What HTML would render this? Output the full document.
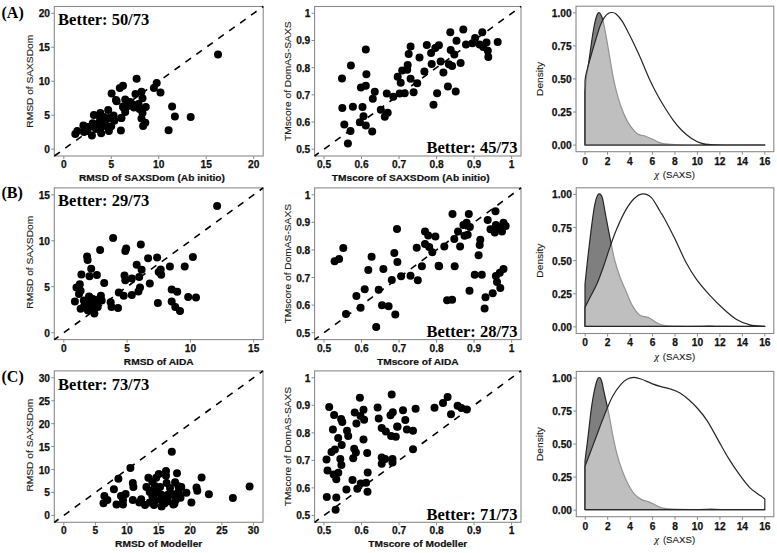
<!DOCTYPE html>
<html><head><meta charset="utf-8"><style>
html,body{margin:0;padding:0;background:#fff;}
svg{display:block;}
.tk{font-family:"Liberation Sans",sans-serif;font-weight:bold;font-size:10.2px;fill:#111;stroke:#111;stroke-width:0.25px;}
.xt{font-family:"Liberation Sans",sans-serif;font-weight:bold;font-size:10.2px;fill:#111;stroke:#111;stroke-width:0.2px;}
.yt{font-family:"Liberation Sans",sans-serif;font-size:10.2px;fill:#1a1a1a;stroke:#1a1a1a;stroke-width:0.12px;}
.bt{font-family:"Liberation Serif",serif;font-weight:bold;font-size:16.5px;fill:#000;}
.pl{font-family:"Liberation Serif",serif;font-weight:bold;font-size:16px;fill:#000;}
</style></head><body>
<svg width="777" height="553" viewBox="0 0 777 553">
<rect width="777" height="553" fill="#fff"/>
<rect x="54.3" y="6.5" width="208.90" height="149.50" fill="none" stroke="#8a8a8a" stroke-width="1.1"/>
<line x1="54.3" y1="156.0" x2="263.2" y2="6.5" stroke="#000" stroke-width="1.6" stroke-dasharray="6.8 6.64" stroke-dashoffset="0"/>
<line x1="63.80" y1="156.0" x2="63.80" y2="159.0" stroke="#8a8a8a" stroke-width="1"/>
<text transform="translate(63.80,168.00) scale(1,1.0)" class="tk" text-anchor="middle">0</text>
<line x1="111.27" y1="156.0" x2="111.27" y2="159.0" stroke="#8a8a8a" stroke-width="1"/>
<text transform="translate(111.27,168.00) scale(1,1.0)" class="tk" text-anchor="middle">5</text>
<line x1="158.75" y1="156.0" x2="158.75" y2="159.0" stroke="#8a8a8a" stroke-width="1"/>
<text transform="translate(158.75,168.00) scale(1,1.0)" class="tk" text-anchor="middle">10</text>
<line x1="206.23" y1="156.0" x2="206.23" y2="159.0" stroke="#8a8a8a" stroke-width="1"/>
<text transform="translate(206.23,168.00) scale(1,1.0)" class="tk" text-anchor="middle">15</text>
<line x1="253.70" y1="156.0" x2="253.70" y2="159.0" stroke="#8a8a8a" stroke-width="1"/>
<text transform="translate(253.70,168.00) scale(1,1.0)" class="tk" text-anchor="middle">20</text>
<line x1="51.3" y1="149.20" x2="54.3" y2="149.20" stroke="#8a8a8a" stroke-width="1"/>
<text transform="translate(50.00,153.20) scale(1,1.0)" class="tk" text-anchor="end">0</text>
<line x1="51.3" y1="115.23" x2="54.3" y2="115.23" stroke="#8a8a8a" stroke-width="1"/>
<text transform="translate(50.00,119.23) scale(1,1.0)" class="tk" text-anchor="end">5</text>
<line x1="51.3" y1="81.25" x2="54.3" y2="81.25" stroke="#8a8a8a" stroke-width="1"/>
<text transform="translate(50.00,85.25) scale(1,1.0)" class="tk" text-anchor="end">10</text>
<line x1="51.3" y1="47.27" x2="54.3" y2="47.27" stroke="#8a8a8a" stroke-width="1"/>
<text transform="translate(50.00,51.27) scale(1,1.0)" class="tk" text-anchor="end">15</text>
<line x1="51.3" y1="13.30" x2="54.3" y2="13.30" stroke="#8a8a8a" stroke-width="1"/>
<text transform="translate(50.00,17.30) scale(1,1.0)" class="tk" text-anchor="end">20</text>
<text transform="translate(152,181.00) scale(1,0.88)" class="xt" text-anchor="middle">RMSD of SAXSDom (Ab initio)</text>
<text transform="translate(33.00,81.25) rotate(-90) scale(1,0.95)" class="yt" text-anchor="middle">RMSD of  SAXSDom</text>
<circle cx="116.6" cy="101.20" r="4.0"/>
<circle cx="108.2" cy="110.00" r="4.0"/>
<circle cx="100.4" cy="113.10" r="4.0"/>
<circle cx="93.9" cy="115.10" r="4.0"/>
<circle cx="83.4" cy="125.50" r="4.0"/>
<circle cx="77.3" cy="130.90" r="4.0"/>
<circle cx="75.3" cy="134.00" r="4.0"/>
<circle cx="121.3" cy="118.10" r="4.0"/>
<circle cx="120.9" cy="130.50" r="4.0"/>
<circle cx="113.6" cy="115.40" r="4.0"/>
<circle cx="114.3" cy="120.80" r="4.0"/>
<circle cx="92.7" cy="123.20" r="4.0"/>
<circle cx="91.9" cy="135.50" r="4.0"/>
<circle cx="101.2" cy="133.20" r="4.0"/>
<circle cx="108.9" cy="130.90" r="4.0"/>
<circle cx="111.2" cy="126.30" r="4.0"/>
<circle cx="87.3" cy="130.90" r="4.0"/>
<circle cx="123.6" cy="107.70" r="4.0"/>
<circle cx="99" cy="123.00" r="4.0"/>
<circle cx="105" cy="121.00" r="4.0"/>
<circle cx="101" cy="127.00" r="4.0"/>
<circle cx="96" cy="129.00" r="4.0"/>
<circle cx="106" cy="126.00" r="4.0"/>
<circle cx="104" cy="117.00" r="4.0"/>
<circle cx="218.0" cy="54.60" r="4.0"/>
<circle cx="136.6" cy="78.80" r="4.0"/>
<circle cx="156.7" cy="83.10" r="4.0"/>
<circle cx="153.9" cy="88.00" r="4.0"/>
<circle cx="160.5" cy="92.40" r="4.0"/>
<circle cx="172.1" cy="106.50" r="4.0"/>
<circle cx="174.9" cy="116.40" r="4.0"/>
<circle cx="190.7" cy="116.90" r="4.0"/>
<circle cx="168.6" cy="130.30" r="4.0"/>
<circle cx="123" cy="85.80" r="4.0"/>
<circle cx="119.8" cy="88.00" r="4.0"/>
<circle cx="111.6" cy="93.40" r="4.0"/>
<circle cx="116" cy="100.00" r="4.0"/>
<circle cx="135.5" cy="94.00" r="4.0"/>
<circle cx="141.5" cy="91.80" r="4.0"/>
<circle cx="142.5" cy="98.30" r="4.0"/>
<circle cx="145.8" cy="107.00" r="4.0"/>
<circle cx="142.5" cy="113.00" r="4.0"/>
<circle cx="141.5" cy="118.40" r="4.0"/>
<circle cx="145.3" cy="122.70" r="4.0"/>
<circle cx="143.1" cy="126.00" r="4.0"/>
<circle cx="125.2" cy="99.40" r="4.0"/>
<circle cx="130.1" cy="102.10" r="4.0"/>
<circle cx="123" cy="106.50" r="4.0"/>
<circle cx="133.9" cy="107.50" r="4.0"/>
<circle cx="125.2" cy="111.90" r="4.0"/>
<circle cx="121.4" cy="117.90" r="4.0"/>
<circle cx="128" cy="106.00" r="4.0"/>
<circle cx="132" cy="104.00" r="4.0"/>
<circle cx="109" cy="118.00" r="4.0"/>
<circle cx="100" cy="118.00" r="4.0"/>
<circle cx="84" cy="132.00" r="4.0"/>
<circle cx="88" cy="127.00" r="4.0"/>
<circle cx="95" cy="125.00" r="4.0"/>
<circle cx="105" cy="124.00" r="4.0"/>
<circle cx="138.5" cy="104.00" r="4.0"/>
<circle cx="139.5" cy="109.00" r="4.0"/>
<text transform="translate(58.099999999999994,25.30) scale(1,1.03)" class="bt">Better: 50/73</text>
<rect x="314.6" y="6.5" width="206.40" height="149.50" fill="none" stroke="#8a8a8a" stroke-width="1.1"/>
<line x1="314.6" y1="156.0" x2="521.0" y2="6.5" stroke="#000" stroke-width="1.6" stroke-dasharray="6.8 6.64" stroke-dashoffset="1.6"/>
<line x1="323.98" y1="156.0" x2="323.98" y2="159.0" stroke="#8a8a8a" stroke-width="1"/>
<text transform="translate(323.98,168.00) scale(1,1.0)" class="tk" text-anchor="middle">0.5</text>
<line x1="361.51" y1="156.0" x2="361.51" y2="159.0" stroke="#8a8a8a" stroke-width="1"/>
<text transform="translate(361.51,168.00) scale(1,1.0)" class="tk" text-anchor="middle">0.6</text>
<line x1="399.04" y1="156.0" x2="399.04" y2="159.0" stroke="#8a8a8a" stroke-width="1"/>
<text transform="translate(399.04,168.00) scale(1,1.0)" class="tk" text-anchor="middle">0.7</text>
<line x1="436.56" y1="156.0" x2="436.56" y2="159.0" stroke="#8a8a8a" stroke-width="1"/>
<text transform="translate(436.56,168.00) scale(1,1.0)" class="tk" text-anchor="middle">0.8</text>
<line x1="474.09" y1="156.0" x2="474.09" y2="159.0" stroke="#8a8a8a" stroke-width="1"/>
<text transform="translate(474.09,168.00) scale(1,1.0)" class="tk" text-anchor="middle">0.9</text>
<line x1="511.62" y1="156.0" x2="511.62" y2="159.0" stroke="#8a8a8a" stroke-width="1"/>
<text transform="translate(511.62,168.00) scale(1,1.0)" class="tk" text-anchor="middle">1</text>
<line x1="311.6" y1="149.20" x2="314.6" y2="149.20" stroke="#8a8a8a" stroke-width="1"/>
<text transform="translate(310.30,153.20) scale(1,1.0)" class="tk" text-anchor="end">0.5</text>
<line x1="311.6" y1="122.02" x2="314.6" y2="122.02" stroke="#8a8a8a" stroke-width="1"/>
<text transform="translate(310.30,126.02) scale(1,1.0)" class="tk" text-anchor="end">0.6</text>
<line x1="311.6" y1="94.84" x2="314.6" y2="94.84" stroke="#8a8a8a" stroke-width="1"/>
<text transform="translate(310.30,98.84) scale(1,1.0)" class="tk" text-anchor="end">0.7</text>
<line x1="311.6" y1="67.66" x2="314.6" y2="67.66" stroke="#8a8a8a" stroke-width="1"/>
<text transform="translate(310.30,71.66) scale(1,1.0)" class="tk" text-anchor="end">0.8</text>
<line x1="311.6" y1="40.48" x2="314.6" y2="40.48" stroke="#8a8a8a" stroke-width="1"/>
<text transform="translate(310.30,44.48) scale(1,1.0)" class="tk" text-anchor="end">0.9</text>
<line x1="311.6" y1="13.30" x2="314.6" y2="13.30" stroke="#8a8a8a" stroke-width="1"/>
<text transform="translate(310.30,17.30) scale(1,1.0)" class="tk" text-anchor="end">1</text>
<text transform="translate(410.7,181.00) scale(1,0.88)" class="xt" text-anchor="middle">TMscore of SAXSDom (Ab initio)</text>
<text transform="translate(290.80,81.25) rotate(-90) scale(1,0.95)" class="yt" text-anchor="middle">TMscore of DomAS-SAXS</text>
<circle cx="365.8" cy="49.60" r="4.0"/>
<circle cx="350.9" cy="65.50" r="4.0"/>
<circle cx="342" cy="78.40" r="4.0"/>
<circle cx="366.4" cy="74.20" r="4.0"/>
<circle cx="360.9" cy="87.40" r="4.0"/>
<circle cx="365.8" cy="85.80" r="4.0"/>
<circle cx="374.8" cy="91.80" r="4.0"/>
<circle cx="372.8" cy="98.70" r="4.0"/>
<circle cx="342.3" cy="108.10" r="4.0"/>
<circle cx="352.9" cy="106.70" r="4.0"/>
<circle cx="362.5" cy="107.10" r="4.0"/>
<circle cx="363.5" cy="116.30" r="4.0"/>
<circle cx="359.9" cy="122.20" r="4.0"/>
<circle cx="365.8" cy="125.60" r="4.0"/>
<circle cx="372.2" cy="131.60" r="4.0"/>
<circle cx="344.3" cy="124.60" r="4.0"/>
<circle cx="350.5" cy="131.00" r="4.0"/>
<circle cx="347.9" cy="143.50" r="4.0"/>
<circle cx="380.8" cy="109.70" r="4.0"/>
<circle cx="387.7" cy="112.70" r="4.0"/>
<circle cx="384.8" cy="116.70" r="4.0"/>
<circle cx="386.8" cy="93.40" r="4.0"/>
<circle cx="393.3" cy="96.80" r="4.0"/>
<circle cx="399.7" cy="93.40" r="4.0"/>
<circle cx="404.7" cy="93.20" r="4.0"/>
<circle cx="413.6" cy="92.20" r="4.0"/>
<circle cx="397.7" cy="76.80" r="4.0"/>
<circle cx="400.7" cy="82.80" r="4.0"/>
<circle cx="402.2" cy="70.60" r="4.0"/>
<circle cx="407.2" cy="69.80" r="4.0"/>
<circle cx="407.7" cy="64.90" r="4.0"/>
<circle cx="408.7" cy="53.90" r="4.0"/>
<circle cx="410.6" cy="46.40" r="4.0"/>
<circle cx="410.6" cy="78.80" r="4.0"/>
<circle cx="417.2" cy="83.30" r="4.0"/>
<circle cx="419.5" cy="57.60" r="4.0"/>
<circle cx="424.4" cy="71.60" r="4.0"/>
<circle cx="426.8" cy="45.00" r="4.0"/>
<circle cx="431.1" cy="53.10" r="4.0"/>
<circle cx="435.3" cy="48.00" r="4.0"/>
<circle cx="438.9" cy="45.30" r="4.0"/>
<circle cx="431.7" cy="64.00" r="4.0"/>
<circle cx="440.7" cy="61.60" r="4.0"/>
<circle cx="443.4" cy="72.50" r="4.0"/>
<circle cx="448.9" cy="64.30" r="4.0"/>
<circle cx="452.1" cy="66.10" r="4.0"/>
<circle cx="460.6" cy="63.10" r="4.0"/>
<circle cx="450.7" cy="49.90" r="4.0"/>
<circle cx="454.3" cy="54.40" r="4.0"/>
<circle cx="456.5" cy="40.80" r="4.0"/>
<circle cx="450.3" cy="32.30" r="4.0"/>
<circle cx="463.3" cy="29.40" r="4.0"/>
<circle cx="466" cy="44.40" r="4.0"/>
<circle cx="472.4" cy="43.20" r="4.0"/>
<circle cx="475.1" cy="38.10" r="4.0"/>
<circle cx="482.3" cy="32.30" r="4.0"/>
<circle cx="479.6" cy="44.40" r="4.0"/>
<circle cx="486.5" cy="42.60" r="4.0"/>
<circle cx="483.2" cy="47.10" r="4.0"/>
<circle cx="487.8" cy="50.80" r="4.0"/>
<circle cx="488.3" cy="57.10" r="4.0"/>
<circle cx="497.7" cy="42.10" r="4.0"/>
<circle cx="447.9" cy="86.60" r="4.0"/>
<circle cx="455.7" cy="91.50" r="4.0"/>
<circle cx="437.1" cy="93.30" r="4.0"/>
<circle cx="433.5" cy="104.70" r="4.0"/>
<text transform="translate(517.5,153.20) scale(1,1.03)" class="bt" text-anchor="end">Better: 45/73</text>
<rect x="54.3" y="187.9" width="208.90" height="151.70" fill="none" stroke="#8a8a8a" stroke-width="1.1"/>
<line x1="54.3" y1="339.6" x2="263.2" y2="187.9" stroke="#000" stroke-width="1.6" stroke-dasharray="6.8 6.64" stroke-dashoffset="1.6"/>
<line x1="63.80" y1="339.6" x2="63.80" y2="342.6" stroke="#8a8a8a" stroke-width="1"/>
<text transform="translate(63.80,351.60) scale(1,1.0)" class="tk" text-anchor="middle">0</text>
<line x1="127.10" y1="339.6" x2="127.10" y2="342.6" stroke="#8a8a8a" stroke-width="1"/>
<text transform="translate(127.10,351.60) scale(1,1.0)" class="tk" text-anchor="middle">5</text>
<line x1="190.40" y1="339.6" x2="190.40" y2="342.6" stroke="#8a8a8a" stroke-width="1"/>
<text transform="translate(190.40,351.60) scale(1,1.0)" class="tk" text-anchor="middle">10</text>
<line x1="253.70" y1="339.6" x2="253.70" y2="342.6" stroke="#8a8a8a" stroke-width="1"/>
<text transform="translate(253.70,351.60) scale(1,1.0)" class="tk" text-anchor="middle">15</text>
<line x1="51.3" y1="332.70" x2="54.3" y2="332.70" stroke="#8a8a8a" stroke-width="1"/>
<text transform="translate(50.00,336.70) scale(1,1.0)" class="tk" text-anchor="end">0</text>
<line x1="51.3" y1="286.73" x2="54.3" y2="286.73" stroke="#8a8a8a" stroke-width="1"/>
<text transform="translate(50.00,290.73) scale(1,1.0)" class="tk" text-anchor="end">5</text>
<line x1="51.3" y1="240.77" x2="54.3" y2="240.77" stroke="#8a8a8a" stroke-width="1"/>
<text transform="translate(50.00,244.77) scale(1,1.0)" class="tk" text-anchor="end">10</text>
<line x1="51.3" y1="194.80" x2="54.3" y2="194.80" stroke="#8a8a8a" stroke-width="1"/>
<text transform="translate(50.00,198.80) scale(1,1.0)" class="tk" text-anchor="end">15</text>
<text transform="translate(158.7,364.60) scale(1,0.88)" class="xt" text-anchor="middle">RMSD of AIDA</text>
<text transform="translate(33.00,262.25) rotate(-90) scale(1,0.95)" class="yt" text-anchor="middle">RMSD of  SAXSDom</text>
<circle cx="113.1" cy="237.90" r="4.0"/>
<circle cx="100.1" cy="250.10" r="4.0"/>
<circle cx="87.1" cy="256.60" r="4.0"/>
<circle cx="87.6" cy="259.90" r="4.0"/>
<circle cx="126.2" cy="248.50" r="4.0"/>
<circle cx="125.3" cy="250.90" r="4.0"/>
<circle cx="140.8" cy="244.40" r="4.0"/>
<circle cx="148.1" cy="258.30" r="4.0"/>
<circle cx="157.1" cy="257.50" r="4.0"/>
<circle cx="91.2" cy="268.80" r="4.0"/>
<circle cx="81.4" cy="274.50" r="4.0"/>
<circle cx="89.5" cy="276.20" r="4.0"/>
<circle cx="96.9" cy="274.90" r="4.0"/>
<circle cx="104.2" cy="283.00" r="4.0"/>
<circle cx="136.7" cy="264.80" r="4.0"/>
<circle cx="141.6" cy="269.70" r="4.0"/>
<circle cx="124.5" cy="275.40" r="4.0"/>
<circle cx="125.3" cy="280.20" r="4.0"/>
<circle cx="131.8" cy="278.60" r="4.0"/>
<circle cx="139.2" cy="277.00" r="4.0"/>
<circle cx="149.8" cy="283.50" r="4.0"/>
<circle cx="140" cy="287.60" r="4.0"/>
<circle cx="138.4" cy="291.60" r="4.0"/>
<circle cx="131.8" cy="294.90" r="4.0"/>
<circle cx="118.8" cy="292.40" r="4.0"/>
<circle cx="123.7" cy="295.70" r="4.0"/>
<circle cx="79.8" cy="284.30" r="4.0"/>
<circle cx="76.5" cy="287.60" r="4.0"/>
<circle cx="80.6" cy="290.80" r="4.0"/>
<circle cx="79" cy="294.10" r="4.0"/>
<circle cx="74.9" cy="301.40" r="4.0"/>
<circle cx="80.6" cy="308.70" r="4.0"/>
<circle cx="83.8" cy="300.60" r="4.0"/>
<circle cx="92.8" cy="299.00" r="4.0"/>
<circle cx="100.9" cy="295.70" r="4.0"/>
<circle cx="101.7" cy="300.60" r="4.0"/>
<circle cx="91.2" cy="305.50" r="4.0"/>
<circle cx="97.7" cy="307.10" r="4.0"/>
<circle cx="87.9" cy="310.40" r="4.0"/>
<circle cx="94.4" cy="313.60" r="4.0"/>
<circle cx="110.7" cy="302.20" r="4.0"/>
<circle cx="111.5" cy="307.10" r="4.0"/>
<circle cx="118" cy="307.90" r="4.0"/>
<circle cx="157.9" cy="303.00" r="4.0"/>
<circle cx="158.7" cy="272.10" r="4.0"/>
<circle cx="86" cy="304.60" r="4.0"/>
<circle cx="95" cy="302.60" r="4.0"/>
<circle cx="89" cy="296.60" r="4.0"/>
<circle cx="84" cy="306.60" r="4.0"/>
<circle cx="91.2" cy="302.20" r="4.0"/>
<circle cx="96" cy="302.20" r="4.0"/>
<circle cx="89.5" cy="297.30" r="4.0"/>
<circle cx="99.3" cy="299.00" r="4.0"/>
<circle cx="93" cy="308.60" r="4.0"/>
<circle cx="217.1" cy="205.90" r="4.0"/>
<circle cx="192.9" cy="256.90" r="4.0"/>
<circle cx="160.7" cy="269.40" r="4.0"/>
<circle cx="161.2" cy="274.80" r="4.0"/>
<circle cx="169.9" cy="266.60" r="4.0"/>
<circle cx="184.7" cy="266.60" r="4.0"/>
<circle cx="171.7" cy="289.40" r="4.0"/>
<circle cx="177.2" cy="291.70" r="4.0"/>
<circle cx="188.2" cy="296.90" r="4.0"/>
<circle cx="196" cy="297.60" r="4.0"/>
<circle cx="171.7" cy="301.60" r="4.0"/>
<circle cx="175.3" cy="307.00" r="4.0"/>
<circle cx="180" cy="311.00" r="4.0"/>
<text transform="translate(58.099999999999994,205.70) scale(1,1.03)" class="bt">Better: 29/73</text>
<rect x="314.6" y="187.9" width="206.40" height="151.70" fill="none" stroke="#8a8a8a" stroke-width="1.1"/>
<line x1="314.6" y1="339.6" x2="521.0" y2="187.9" stroke="#000" stroke-width="1.6" stroke-dasharray="6.8 6.64" stroke-dashoffset="1.6"/>
<line x1="323.98" y1="339.6" x2="323.98" y2="342.6" stroke="#8a8a8a" stroke-width="1"/>
<text transform="translate(323.98,351.60) scale(1,1.0)" class="tk" text-anchor="middle">0.5</text>
<line x1="361.51" y1="339.6" x2="361.51" y2="342.6" stroke="#8a8a8a" stroke-width="1"/>
<text transform="translate(361.51,351.60) scale(1,1.0)" class="tk" text-anchor="middle">0.6</text>
<line x1="399.04" y1="339.6" x2="399.04" y2="342.6" stroke="#8a8a8a" stroke-width="1"/>
<text transform="translate(399.04,351.60) scale(1,1.0)" class="tk" text-anchor="middle">0.7</text>
<line x1="436.56" y1="339.6" x2="436.56" y2="342.6" stroke="#8a8a8a" stroke-width="1"/>
<text transform="translate(436.56,351.60) scale(1,1.0)" class="tk" text-anchor="middle">0.8</text>
<line x1="474.09" y1="339.6" x2="474.09" y2="342.6" stroke="#8a8a8a" stroke-width="1"/>
<text transform="translate(474.09,351.60) scale(1,1.0)" class="tk" text-anchor="middle">0.9</text>
<line x1="511.62" y1="339.6" x2="511.62" y2="342.6" stroke="#8a8a8a" stroke-width="1"/>
<text transform="translate(511.62,351.60) scale(1,1.0)" class="tk" text-anchor="middle">1</text>
<line x1="311.6" y1="332.70" x2="314.6" y2="332.70" stroke="#8a8a8a" stroke-width="1"/>
<text transform="translate(310.30,336.70) scale(1,1.0)" class="tk" text-anchor="end">0.5</text>
<line x1="311.6" y1="305.12" x2="314.6" y2="305.12" stroke="#8a8a8a" stroke-width="1"/>
<text transform="translate(310.30,309.12) scale(1,1.0)" class="tk" text-anchor="end">0.6</text>
<line x1="311.6" y1="277.54" x2="314.6" y2="277.54" stroke="#8a8a8a" stroke-width="1"/>
<text transform="translate(310.30,281.54) scale(1,1.0)" class="tk" text-anchor="end">0.7</text>
<line x1="311.6" y1="249.96" x2="314.6" y2="249.96" stroke="#8a8a8a" stroke-width="1"/>
<text transform="translate(310.30,253.96) scale(1,1.0)" class="tk" text-anchor="end">0.8</text>
<line x1="311.6" y1="222.38" x2="314.6" y2="222.38" stroke="#8a8a8a" stroke-width="1"/>
<text transform="translate(310.30,226.38) scale(1,1.0)" class="tk" text-anchor="end">0.9</text>
<line x1="311.6" y1="194.80" x2="314.6" y2="194.80" stroke="#8a8a8a" stroke-width="1"/>
<text transform="translate(310.30,198.80) scale(1,1.0)" class="tk" text-anchor="end">1</text>
<text transform="translate(417.8,364.60) scale(1,0.88)" class="xt" text-anchor="middle">TMscore of AIDA</text>
<text transform="translate(290.80,263.75) rotate(-90) scale(1,0.95)" class="yt" text-anchor="middle">TMscore of DomAS-SAXS</text>
<circle cx="397" cy="228.90" r="4.0"/>
<circle cx="343.3" cy="248.10" r="4.0"/>
<circle cx="334.6" cy="261.20" r="4.0"/>
<circle cx="339.1" cy="259.10" r="4.0"/>
<circle cx="371.6" cy="256.80" r="4.0"/>
<circle cx="368.3" cy="269.90" r="4.0"/>
<circle cx="383.4" cy="268.90" r="4.0"/>
<circle cx="394.3" cy="252.90" r="4.0"/>
<circle cx="397.4" cy="262.00" r="4.0"/>
<circle cx="391.8" cy="279.90" r="4.0"/>
<circle cx="401.1" cy="276.20" r="4.0"/>
<circle cx="410.5" cy="275.70" r="4.0"/>
<circle cx="417.8" cy="280.30" r="4.0"/>
<circle cx="421.9" cy="266.20" r="4.0"/>
<circle cx="416.7" cy="247.70" r="4.0"/>
<circle cx="425" cy="231.40" r="4.0"/>
<circle cx="428.2" cy="235.60" r="4.0"/>
<circle cx="435.4" cy="236.60" r="4.0"/>
<circle cx="425" cy="243.90" r="4.0"/>
<circle cx="429.2" cy="247.00" r="4.0"/>
<circle cx="432.3" cy="252.20" r="4.0"/>
<circle cx="438.6" cy="265.80" r="4.0"/>
<circle cx="364.7" cy="289.30" r="4.0"/>
<circle cx="356.4" cy="295.90" r="4.0"/>
<circle cx="378.7" cy="289.70" r="4.0"/>
<circle cx="360.6" cy="307.80" r="4.0"/>
<circle cx="346" cy="314.00" r="4.0"/>
<circle cx="382" cy="305.30" r="4.0"/>
<circle cx="388.6" cy="306.30" r="4.0"/>
<circle cx="395.3" cy="314.60" r="4.0"/>
<circle cx="376.2" cy="327.10" r="4.0"/>
<circle cx="452.5" cy="214.10" r="4.0"/>
<circle cx="468.8" cy="214.10" r="4.0"/>
<circle cx="495.5" cy="211.30" r="4.0"/>
<circle cx="487.7" cy="220.00" r="4.0"/>
<circle cx="458" cy="231.50" r="4.0"/>
<circle cx="463.4" cy="224.90" r="4.0"/>
<circle cx="466.6" cy="222.80" r="4.0"/>
<circle cx="469.9" cy="227.10" r="4.0"/>
<circle cx="464.5" cy="235.80" r="4.0"/>
<circle cx="467.7" cy="234.70" r="4.0"/>
<circle cx="454.3" cy="239.00" r="4.0"/>
<circle cx="444.3" cy="246.60" r="4.0"/>
<circle cx="460.1" cy="246.60" r="4.0"/>
<circle cx="480.3" cy="239.70" r="4.0"/>
<circle cx="479.7" cy="245.10" r="4.0"/>
<circle cx="478.6" cy="255.30" r="4.0"/>
<circle cx="490.5" cy="229.30" r="4.0"/>
<circle cx="495.9" cy="224.90" r="4.0"/>
<circle cx="503.5" cy="222.80" r="4.0"/>
<circle cx="505.7" cy="226.00" r="4.0"/>
<circle cx="494.8" cy="232.50" r="4.0"/>
<circle cx="502" cy="231.50" r="4.0"/>
<circle cx="499.2" cy="227.10" r="4.0"/>
<circle cx="439.1" cy="266.20" r="4.0"/>
<circle cx="454.7" cy="266.20" r="4.0"/>
<circle cx="474.7" cy="274.80" r="4.0"/>
<circle cx="481.8" cy="274.80" r="4.0"/>
<circle cx="503.5" cy="269.00" r="4.0"/>
<circle cx="499.8" cy="272.70" r="4.0"/>
<circle cx="495.9" cy="275.90" r="4.0"/>
<circle cx="497" cy="282.00" r="4.0"/>
<circle cx="500.3" cy="287.90" r="4.0"/>
<circle cx="492.7" cy="293.30" r="4.0"/>
<circle cx="485.5" cy="297.20" r="4.0"/>
<circle cx="484.6" cy="308.50" r="4.0"/>
<circle cx="469.5" cy="290.70" r="4.0"/>
<circle cx="447.1" cy="300.20" r="4.0"/>
<circle cx="452.1" cy="299.80" r="4.0"/>
<text transform="translate(517.5,336.80) scale(1,1.03)" class="bt" text-anchor="end">Better: 28/73</text>
<rect x="54.3" y="370.9" width="208.70" height="151.40" fill="none" stroke="#8a8a8a" stroke-width="1.1"/>
<line x1="54.3" y1="522.3" x2="263.0" y2="370.9" stroke="#000" stroke-width="1.6" stroke-dasharray="6.8 6.64" stroke-dashoffset="1.6"/>
<line x1="63.79" y1="522.3" x2="63.79" y2="525.3" stroke="#8a8a8a" stroke-width="1"/>
<text transform="translate(63.79,534.30) scale(1,1.0)" class="tk" text-anchor="middle">0</text>
<line x1="95.41" y1="522.3" x2="95.41" y2="525.3" stroke="#8a8a8a" stroke-width="1"/>
<text transform="translate(95.41,534.30) scale(1,1.0)" class="tk" text-anchor="middle">5</text>
<line x1="127.03" y1="522.3" x2="127.03" y2="525.3" stroke="#8a8a8a" stroke-width="1"/>
<text transform="translate(127.03,534.30) scale(1,1.0)" class="tk" text-anchor="middle">10</text>
<line x1="158.65" y1="522.3" x2="158.65" y2="525.3" stroke="#8a8a8a" stroke-width="1"/>
<text transform="translate(158.65,534.30) scale(1,1.0)" class="tk" text-anchor="middle">15</text>
<line x1="190.27" y1="522.3" x2="190.27" y2="525.3" stroke="#8a8a8a" stroke-width="1"/>
<text transform="translate(190.27,534.30) scale(1,1.0)" class="tk" text-anchor="middle">20</text>
<line x1="221.89" y1="522.3" x2="221.89" y2="525.3" stroke="#8a8a8a" stroke-width="1"/>
<text transform="translate(221.89,534.30) scale(1,1.0)" class="tk" text-anchor="middle">25</text>
<line x1="253.51" y1="522.3" x2="253.51" y2="525.3" stroke="#8a8a8a" stroke-width="1"/>
<text transform="translate(253.51,534.30) scale(1,1.0)" class="tk" text-anchor="middle">30</text>
<line x1="51.3" y1="515.42" x2="54.3" y2="515.42" stroke="#8a8a8a" stroke-width="1"/>
<text transform="translate(50.00,519.42) scale(1,1.0)" class="tk" text-anchor="end">0</text>
<line x1="51.3" y1="492.48" x2="54.3" y2="492.48" stroke="#8a8a8a" stroke-width="1"/>
<text transform="translate(50.00,496.48) scale(1,1.0)" class="tk" text-anchor="end">5</text>
<line x1="51.3" y1="469.54" x2="54.3" y2="469.54" stroke="#8a8a8a" stroke-width="1"/>
<text transform="translate(50.00,473.54) scale(1,1.0)" class="tk" text-anchor="end">10</text>
<line x1="51.3" y1="446.60" x2="54.3" y2="446.60" stroke="#8a8a8a" stroke-width="1"/>
<text transform="translate(50.00,450.60) scale(1,1.0)" class="tk" text-anchor="end">15</text>
<line x1="51.3" y1="423.66" x2="54.3" y2="423.66" stroke="#8a8a8a" stroke-width="1"/>
<text transform="translate(50.00,427.66) scale(1,1.0)" class="tk" text-anchor="end">20</text>
<line x1="51.3" y1="400.72" x2="54.3" y2="400.72" stroke="#8a8a8a" stroke-width="1"/>
<text transform="translate(50.00,404.72) scale(1,1.0)" class="tk" text-anchor="end">25</text>
<line x1="51.3" y1="377.78" x2="54.3" y2="377.78" stroke="#8a8a8a" stroke-width="1"/>
<text transform="translate(50.00,381.78) scale(1,1.0)" class="tk" text-anchor="end">30</text>
<text transform="translate(158.7,547.30) scale(1,0.88)" class="xt" text-anchor="middle">RMSD of Modeller</text>
<text transform="translate(33.00,445.10) rotate(-90) scale(1,0.95)" class="yt" text-anchor="middle">RMSD of  SAXSDom</text>
<circle cx="171.8" cy="451.70" r="4.0"/>
<circle cx="130.4" cy="468.00" r="4.0"/>
<circle cx="118.4" cy="478.80" r="4.0"/>
<circle cx="113.9" cy="489.20" r="4.0"/>
<circle cx="132.8" cy="483.00" r="4.0"/>
<circle cx="133.4" cy="486.90" r="4.0"/>
<circle cx="104.4" cy="496.00" r="4.0"/>
<circle cx="107.4" cy="499.90" r="4.0"/>
<circle cx="103.5" cy="503.20" r="4.0"/>
<circle cx="121" cy="496.00" r="4.0"/>
<circle cx="125.6" cy="494.00" r="4.0"/>
<circle cx="123" cy="499.90" r="4.0"/>
<circle cx="116.5" cy="504.50" r="4.0"/>
<circle cx="123" cy="504.50" r="4.0"/>
<circle cx="132.8" cy="499.90" r="4.0"/>
<circle cx="141.2" cy="499.30" r="4.0"/>
<circle cx="139.3" cy="502.50" r="4.0"/>
<circle cx="148.4" cy="477.80" r="4.0"/>
<circle cx="152.3" cy="481.70" r="4.0"/>
<circle cx="158.8" cy="473.90" r="4.0"/>
<circle cx="166" cy="471.00" r="4.0"/>
<circle cx="166" cy="475.80" r="4.0"/>
<circle cx="177" cy="473.20" r="4.0"/>
<circle cx="175.1" cy="482.30" r="4.0"/>
<circle cx="178.4" cy="486.20" r="4.0"/>
<circle cx="146.4" cy="486.90" r="4.0"/>
<circle cx="149.7" cy="492.10" r="4.0"/>
<circle cx="160.1" cy="486.90" r="4.0"/>
<circle cx="161.4" cy="494.70" r="4.0"/>
<circle cx="149.7" cy="502.50" r="4.0"/>
<circle cx="156.2" cy="499.90" r="4.0"/>
<circle cx="162.7" cy="502.50" r="4.0"/>
<circle cx="171.8" cy="494.70" r="4.0"/>
<circle cx="167.9" cy="501.20" r="4.0"/>
<circle cx="174.4" cy="503.80" r="4.0"/>
<circle cx="179.7" cy="494.70" r="4.0"/>
<circle cx="152.3" cy="496.00" r="4.0"/>
<circle cx="157.5" cy="492.10" r="4.0"/>
<circle cx="201.6" cy="477.50" r="4.0"/>
<circle cx="181.3" cy="486.90" r="4.0"/>
<circle cx="196.5" cy="487.60" r="4.0"/>
<circle cx="197.3" cy="490.80" r="4.0"/>
<circle cx="208.9" cy="494.20" r="4.0"/>
<circle cx="186.4" cy="492.70" r="4.0"/>
<circle cx="173.3" cy="494.20" r="4.0"/>
<circle cx="191.4" cy="502.50" r="4.0"/>
<circle cx="232.9" cy="498.10" r="4.0"/>
<circle cx="249.6" cy="486.60" r="4.0"/>
<circle cx="164.5" cy="503.60" r="4.0"/>
<circle cx="173.3" cy="504.40" r="4.0"/>
<circle cx="161.6" cy="506.50" r="4.0"/>
<circle cx="180.5" cy="497.80" r="4.0"/>
<circle cx="151.5" cy="490.50" r="4.0"/>
<circle cx="155" cy="486.00" r="4.0"/>
<circle cx="170" cy="488.00" r="4.0"/>
<circle cx="145" cy="505.00" r="4.0"/>
<circle cx="154" cy="505.00" r="4.0"/>
<circle cx="156.2" cy="477.80" r="4.0"/>
<circle cx="166.6" cy="483.00" r="4.0"/>
<circle cx="167.9" cy="494.70" r="4.0"/>
<circle cx="178.4" cy="492.10" r="4.0"/>
<circle cx="162.7" cy="499.90" r="4.0"/>
<circle cx="154.9" cy="492.10" r="4.0"/>
<circle cx="175.7" cy="499.90" r="4.0"/>
<text transform="translate(58.099999999999994,389.70) scale(1,1.03)" class="bt">Better: 73/73</text>
<rect x="314.6" y="370.9" width="206.40" height="151.40" fill="none" stroke="#8a8a8a" stroke-width="1.1"/>
<line x1="314.6" y1="522.3" x2="521.0" y2="370.9" stroke="#000" stroke-width="1.6" stroke-dasharray="6.8 6.64" stroke-dashoffset="1.6"/>
<line x1="323.98" y1="522.3" x2="323.98" y2="525.3" stroke="#8a8a8a" stroke-width="1"/>
<text transform="translate(323.98,534.30) scale(1,1.0)" class="tk" text-anchor="middle">0.5</text>
<line x1="361.51" y1="522.3" x2="361.51" y2="525.3" stroke="#8a8a8a" stroke-width="1"/>
<text transform="translate(361.51,534.30) scale(1,1.0)" class="tk" text-anchor="middle">0.6</text>
<line x1="399.04" y1="522.3" x2="399.04" y2="525.3" stroke="#8a8a8a" stroke-width="1"/>
<text transform="translate(399.04,534.30) scale(1,1.0)" class="tk" text-anchor="middle">0.7</text>
<line x1="436.56" y1="522.3" x2="436.56" y2="525.3" stroke="#8a8a8a" stroke-width="1"/>
<text transform="translate(436.56,534.30) scale(1,1.0)" class="tk" text-anchor="middle">0.8</text>
<line x1="474.09" y1="522.3" x2="474.09" y2="525.3" stroke="#8a8a8a" stroke-width="1"/>
<text transform="translate(474.09,534.30) scale(1,1.0)" class="tk" text-anchor="middle">0.9</text>
<line x1="511.62" y1="522.3" x2="511.62" y2="525.3" stroke="#8a8a8a" stroke-width="1"/>
<text transform="translate(511.62,534.30) scale(1,1.0)" class="tk" text-anchor="middle">1</text>
<line x1="311.6" y1="515.42" x2="314.6" y2="515.42" stroke="#8a8a8a" stroke-width="1"/>
<text transform="translate(310.30,519.42) scale(1,1.0)" class="tk" text-anchor="end">0.5</text>
<line x1="311.6" y1="487.89" x2="314.6" y2="487.89" stroke="#8a8a8a" stroke-width="1"/>
<text transform="translate(310.30,491.89) scale(1,1.0)" class="tk" text-anchor="end">0.6</text>
<line x1="311.6" y1="460.36" x2="314.6" y2="460.36" stroke="#8a8a8a" stroke-width="1"/>
<text transform="translate(310.30,464.36) scale(1,1.0)" class="tk" text-anchor="end">0.7</text>
<line x1="311.6" y1="432.84" x2="314.6" y2="432.84" stroke="#8a8a8a" stroke-width="1"/>
<text transform="translate(310.30,436.84) scale(1,1.0)" class="tk" text-anchor="end">0.8</text>
<line x1="311.6" y1="405.31" x2="314.6" y2="405.31" stroke="#8a8a8a" stroke-width="1"/>
<text transform="translate(310.30,409.31) scale(1,1.0)" class="tk" text-anchor="end">0.9</text>
<line x1="311.6" y1="377.78" x2="314.6" y2="377.78" stroke="#8a8a8a" stroke-width="1"/>
<text transform="translate(310.30,381.78) scale(1,1.0)" class="tk" text-anchor="end">1</text>
<text transform="translate(417.8,547.30) scale(1,0.88)" class="xt" text-anchor="middle">TMscore of Modeller</text>
<text transform="translate(290.80,446.60) rotate(-90) scale(1,0.95)" class="yt" text-anchor="middle">TMscore of DomAS-SAXS</text>
<circle cx="359.9" cy="397.70" r="4.0"/>
<circle cx="391.7" cy="394.40" r="4.0"/>
<circle cx="329.2" cy="407.10" r="4.0"/>
<circle cx="334.1" cy="415.00" r="4.0"/>
<circle cx="341.1" cy="419.10" r="4.0"/>
<circle cx="342.3" cy="422.00" r="4.0"/>
<circle cx="354.7" cy="412.60" r="4.0"/>
<circle cx="363.5" cy="409.70" r="4.0"/>
<circle cx="360.5" cy="416.10" r="4.0"/>
<circle cx="364.1" cy="419.70" r="4.0"/>
<circle cx="356.4" cy="423.50" r="4.0"/>
<circle cx="377.6" cy="407.60" r="4.0"/>
<circle cx="378.7" cy="418.50" r="4.0"/>
<circle cx="392.8" cy="412.30" r="4.0"/>
<circle cx="390.5" cy="415.30" r="4.0"/>
<circle cx="397.5" cy="426.70" r="4.0"/>
<circle cx="381.7" cy="427.90" r="4.0"/>
<circle cx="385.8" cy="431.40" r="4.0"/>
<circle cx="391.1" cy="436.10" r="4.0"/>
<circle cx="395.8" cy="436.70" r="4.0"/>
<circle cx="332.9" cy="429.60" r="4.0"/>
<circle cx="347" cy="430.80" r="4.0"/>
<circle cx="348.2" cy="436.10" r="4.0"/>
<circle cx="338.2" cy="437.90" r="4.0"/>
<circle cx="341.7" cy="444.90" r="4.0"/>
<circle cx="363.5" cy="439.60" r="4.0"/>
<circle cx="334.9" cy="449.50" r="4.0"/>
<circle cx="331.5" cy="451.90" r="4.0"/>
<circle cx="326.5" cy="459.40" r="4.0"/>
<circle cx="340.3" cy="459.00" r="4.0"/>
<circle cx="341.4" cy="465.10" r="4.0"/>
<circle cx="354.2" cy="448.80" r="4.0"/>
<circle cx="355.9" cy="452.50" r="4.0"/>
<circle cx="353.2" cy="458.30" r="4.0"/>
<circle cx="367.2" cy="452.90" r="4.0"/>
<circle cx="381.7" cy="457.60" r="4.0"/>
<circle cx="385.1" cy="459.00" r="4.0"/>
<circle cx="381.7" cy="463.70" r="4.0"/>
<circle cx="392.5" cy="459.00" r="4.0"/>
<circle cx="392.5" cy="462.40" r="4.0"/>
<circle cx="327.5" cy="470.50" r="4.0"/>
<circle cx="333.6" cy="474.60" r="4.0"/>
<circle cx="338.3" cy="472.80" r="4.0"/>
<circle cx="336.3" cy="479.30" r="4.0"/>
<circle cx="367.7" cy="472.50" r="4.0"/>
<circle cx="352.5" cy="480.00" r="4.0"/>
<circle cx="360.7" cy="483.40" r="4.0"/>
<circle cx="366.1" cy="482.70" r="4.0"/>
<circle cx="357.3" cy="488.80" r="4.0"/>
<circle cx="346.4" cy="489.50" r="4.0"/>
<circle cx="367.5" cy="491.80" r="4.0"/>
<circle cx="326.8" cy="497.00" r="4.0"/>
<circle cx="336.3" cy="497.60" r="4.0"/>
<circle cx="335.6" cy="509.80" r="4.0"/>
<circle cx="403" cy="410.30" r="4.0"/>
<circle cx="415.6" cy="408.80" r="4.0"/>
<circle cx="405.3" cy="420.00" r="4.0"/>
<circle cx="397.2" cy="426.50" r="4.0"/>
<circle cx="406.9" cy="429.50" r="4.0"/>
<circle cx="413" cy="430.80" r="4.0"/>
<circle cx="434.5" cy="407.70" r="4.0"/>
<circle cx="443" cy="403.10" r="4.0"/>
<circle cx="447.6" cy="397.00" r="4.0"/>
<circle cx="457.6" cy="405.70" r="4.0"/>
<circle cx="461.4" cy="408.00" r="4.0"/>
<circle cx="466.8" cy="409.60" r="4.0"/>
<circle cx="451" cy="414.20" r="4.0"/>
<circle cx="413" cy="449.20" r="4.0"/>
<text transform="translate(517.5,519.50) scale(1,1.03)" class="bt" text-anchor="end">Better: 71/73</text>
<path d="M585.0,145.0 L585.0,92.6  C585.30,89.67 586.15,80.22 586.80,75.00 C587.45,69.78 588.02,67.38 588.90,61.30 C589.78,55.22 591.15,44.73 592.10,38.50 C593.05,32.27 593.80,27.78 594.60,23.90 C595.40,20.02 596.18,17.07 596.90,15.20 C597.62,13.33 598.23,12.77 598.90,12.70 C599.57,12.63 600.25,13.62 600.90,14.80 C601.55,15.98 602.22,17.75 602.80,19.80 C603.38,21.85 603.73,23.72 604.40,27.10 C605.07,30.48 605.85,34.67 606.80,40.10 C607.75,45.53 609.07,53.67 610.10,59.70 C611.13,65.73 611.97,71.10 613.00,76.30 C614.03,81.50 614.93,85.75 616.30,90.90 C617.67,96.05 619.30,102.03 621.20,107.20 C623.10,112.37 625.53,117.97 627.70,121.90 C629.87,125.83 632.30,128.68 634.20,130.80 C636.10,132.92 637.20,133.70 639.10,134.60 C641.00,135.50 643.43,135.47 645.60,136.20 C647.77,136.93 649.93,138.00 652.10,139.00 C654.27,140.00 656.43,141.38 658.60,142.20 C660.77,143.02 661.83,143.47 665.10,143.90 C668.37,144.33 672.38,144.62 678.20,144.80 C684.02,144.98 685.57,144.97 700.00,145.00 C714.43,145.03 754.00,145.00 764.80,145.00 L764.8,145.0 Z" fill="rgba(0,0,0,0.5)" stroke="#262626" stroke-width="1.2" stroke-linejoin="round"/>
<path d="M585.0,145.0 L585.0,81.5  C585.12,80.57 585.18,78.45 585.70,75.90 C586.22,73.35 587.02,70.27 588.10,66.20 C589.18,62.13 590.83,56.25 592.20,51.50 C593.57,46.75 594.95,42.03 596.30,37.70 C597.65,33.37 598.95,28.88 600.30,25.50 C601.65,22.12 603.03,19.43 604.40,17.40 C605.77,15.37 607.28,14.12 608.50,13.30 C609.72,12.48 610.48,12.42 611.70,12.50 C612.92,12.58 614.03,12.32 615.80,13.80 C617.57,15.28 620.13,18.10 622.30,21.40 C624.47,24.70 626.63,29.38 628.80,33.60 C630.97,37.82 633.32,42.55 635.30,46.70 C637.28,50.85 638.43,53.30 640.70,58.50 C642.97,63.70 646.18,71.95 648.90,77.90 C651.62,83.85 654.30,89.18 657.00,94.20 C659.70,99.22 662.38,103.65 665.10,108.00 C667.82,112.35 670.58,116.63 673.30,120.30 C676.02,123.97 678.42,127.02 681.40,130.00 C684.38,132.98 687.93,136.02 691.20,138.20 C694.47,140.38 697.75,142.02 701.00,143.10 C704.25,144.18 705.87,144.38 710.70,144.70 C715.53,145.02 720.98,144.95 730.00,145.00 C739.02,145.05 759.00,145.00 764.80,145.00 L764.8,145.0 Z" fill="rgba(255,255,255,0.5)" stroke="#262626" stroke-width="1.2" stroke-linejoin="round"/>
<rect x="576.0" y="6.2" width="197.80" height="145.50" fill="none" stroke="#8a8a8a" stroke-width="1.1"/>
<line x1="584.99" y1="151.7" x2="584.99" y2="154.7" stroke="#8a8a8a" stroke-width="1"/>
<text transform="translate(584.99,164.60) scale(1,1.0)" class="tk" text-anchor="middle">0</text>
<line x1="607.47" y1="151.7" x2="607.47" y2="154.7" stroke="#8a8a8a" stroke-width="1"/>
<text transform="translate(607.47,164.60) scale(1,1.0)" class="tk" text-anchor="middle">2</text>
<line x1="629.95" y1="151.7" x2="629.95" y2="154.7" stroke="#8a8a8a" stroke-width="1"/>
<text transform="translate(629.95,164.60) scale(1,1.0)" class="tk" text-anchor="middle">4</text>
<line x1="652.42" y1="151.7" x2="652.42" y2="154.7" stroke="#8a8a8a" stroke-width="1"/>
<text transform="translate(652.42,164.60) scale(1,1.0)" class="tk" text-anchor="middle">6</text>
<line x1="674.90" y1="151.7" x2="674.90" y2="154.7" stroke="#8a8a8a" stroke-width="1"/>
<text transform="translate(674.90,164.60) scale(1,1.0)" class="tk" text-anchor="middle">8</text>
<line x1="697.38" y1="151.7" x2="697.38" y2="154.7" stroke="#8a8a8a" stroke-width="1"/>
<text transform="translate(697.38,164.60) scale(1,1.0)" class="tk" text-anchor="middle">10</text>
<line x1="719.85" y1="151.7" x2="719.85" y2="154.7" stroke="#8a8a8a" stroke-width="1"/>
<text transform="translate(719.85,164.60) scale(1,1.0)" class="tk" text-anchor="middle">12</text>
<line x1="742.33" y1="151.7" x2="742.33" y2="154.7" stroke="#8a8a8a" stroke-width="1"/>
<text transform="translate(742.33,164.60) scale(1,1.0)" class="tk" text-anchor="middle">14</text>
<line x1="764.81" y1="151.7" x2="764.81" y2="154.7" stroke="#8a8a8a" stroke-width="1"/>
<text transform="translate(764.81,164.60) scale(1,1.0)" class="tk" text-anchor="middle">16</text>
<line x1="573.0" y1="145.09" x2="576.0" y2="145.09" stroke="#8a8a8a" stroke-width="1"/>
<text transform="translate(571.70,149.09) scale(1,1.0)" class="tk" text-anchor="end">0.00</text>
<line x1="573.0" y1="112.02" x2="576.0" y2="112.02" stroke="#8a8a8a" stroke-width="1"/>
<text transform="translate(571.70,116.02) scale(1,1.0)" class="tk" text-anchor="end">0.25</text>
<line x1="573.0" y1="78.95" x2="576.0" y2="78.95" stroke="#8a8a8a" stroke-width="1"/>
<text transform="translate(571.70,82.95) scale(1,1.0)" class="tk" text-anchor="end">0.50</text>
<line x1="573.0" y1="45.88" x2="576.0" y2="45.88" stroke="#8a8a8a" stroke-width="1"/>
<text transform="translate(571.70,49.88) scale(1,1.0)" class="tk" text-anchor="end">0.75</text>
<line x1="573.0" y1="12.81" x2="576.0" y2="12.81" stroke="#8a8a8a" stroke-width="1"/>
<text transform="translate(571.70,16.81) scale(1,1.0)" class="tk" text-anchor="end">1.00</text>
<text transform="translate(674.70,178.00) scale(0.95,0.88)" class="yt" text-anchor="middle"><tspan style="font-family:Liberation Serif,serif;font-style:italic;font-size:11px">χ</tspan><tspan dx="1.1"> (SAXS)</tspan></text>
<text transform="translate(542.5,78.95) rotate(-90) scale(1,0.95)" class="yt" text-anchor="middle">Density</text>
<path d="M585.0,326.3 L585.0,284.3  C585.40,280.50 586.45,269.98 587.40,261.50 C588.35,253.02 589.62,242.07 590.70,233.40 C591.78,224.73 592.98,215.23 593.90,209.50 C594.82,203.77 595.53,201.45 596.20,199.00 C596.87,196.55 597.38,195.65 597.90,194.80 C598.42,193.95 598.82,193.90 599.30,193.90 C599.78,193.90 600.25,194.00 600.80,194.80 C601.35,195.60 601.77,195.17 602.60,198.70 C603.43,202.23 604.72,210.22 605.80,216.00 C606.88,221.78 608.18,228.70 609.10,233.40 C610.02,238.10 610.40,239.87 611.30,244.20 C612.20,248.53 613.07,253.98 614.50,259.40 C615.93,264.82 618.08,271.65 619.90,276.70 C621.72,281.75 623.40,285.00 625.40,289.70 C627.40,294.40 629.55,300.70 631.90,304.90 C634.25,309.10 636.73,312.80 639.50,314.90 C642.27,317.00 645.42,316.07 648.50,317.50 C651.58,318.93 655.25,322.15 658.00,323.50 C660.75,324.85 661.33,325.15 665.00,325.60 C668.67,326.05 674.17,326.12 680.00,326.20 C685.83,326.28 695.00,326.20 700.00,326.10 C705.00,326.00 706.67,325.58 710.00,325.60 C713.33,325.62 710.87,326.08 720.00,326.20 C729.13,326.32 757.33,326.28 764.80,326.30 L764.8,326.3 Z" fill="rgba(0,0,0,0.5)" stroke="#262626" stroke-width="1.2" stroke-linejoin="round"/>
<path d="M585.0,326.3 L585.0,307.1  C585.95,305.28 588.67,300.18 590.70,296.20 C592.73,292.22 595.03,288.25 597.20,283.20 C599.37,278.15 601.53,272.03 603.70,265.90 C605.87,259.77 608.03,252.55 610.20,246.40 C612.37,240.25 614.17,234.97 616.70,229.00 C619.23,223.03 622.52,215.65 625.40,210.60 C628.28,205.55 631.12,201.48 634.00,198.70 C636.88,195.92 639.80,194.08 642.70,193.90 C645.60,193.72 648.52,194.72 651.40,197.60 C654.28,200.48 657.83,207.72 660.00,211.20 C662.17,214.68 661.88,213.83 664.40,218.50 C666.92,223.17 671.53,231.95 675.10,239.20 C678.67,246.45 682.23,255.30 685.80,262.00 C689.37,268.70 692.48,273.83 696.50,279.40 C700.52,284.97 705.43,290.50 709.90,295.40 C714.37,300.30 718.85,304.78 723.30,308.80 C727.75,312.82 732.15,316.82 736.60,319.50 C741.05,322.18 745.30,323.77 750.00,324.90 C754.70,326.03 762.33,326.07 764.80,326.30 L764.8,326.3 Z" fill="rgba(255,255,255,0.5)" stroke="#262626" stroke-width="1.2" stroke-linejoin="round"/>
<rect x="576.2" y="187.8" width="197.60" height="145.70" fill="none" stroke="#8a8a8a" stroke-width="1.1"/>
<line x1="585.18" y1="333.5" x2="585.18" y2="336.5" stroke="#8a8a8a" stroke-width="1"/>
<text transform="translate(585.18,346.40) scale(1,1.0)" class="tk" text-anchor="middle">0</text>
<line x1="607.64" y1="333.5" x2="607.64" y2="336.5" stroke="#8a8a8a" stroke-width="1"/>
<text transform="translate(607.64,346.40) scale(1,1.0)" class="tk" text-anchor="middle">2</text>
<line x1="630.09" y1="333.5" x2="630.09" y2="336.5" stroke="#8a8a8a" stroke-width="1"/>
<text transform="translate(630.09,346.40) scale(1,1.0)" class="tk" text-anchor="middle">4</text>
<line x1="652.55" y1="333.5" x2="652.55" y2="336.5" stroke="#8a8a8a" stroke-width="1"/>
<text transform="translate(652.55,346.40) scale(1,1.0)" class="tk" text-anchor="middle">6</text>
<line x1="675.00" y1="333.5" x2="675.00" y2="336.5" stroke="#8a8a8a" stroke-width="1"/>
<text transform="translate(675.00,346.40) scale(1,1.0)" class="tk" text-anchor="middle">8</text>
<line x1="697.45" y1="333.5" x2="697.45" y2="336.5" stroke="#8a8a8a" stroke-width="1"/>
<text transform="translate(697.45,346.40) scale(1,1.0)" class="tk" text-anchor="middle">10</text>
<line x1="719.91" y1="333.5" x2="719.91" y2="336.5" stroke="#8a8a8a" stroke-width="1"/>
<text transform="translate(719.91,346.40) scale(1,1.0)" class="tk" text-anchor="middle">12</text>
<line x1="742.36" y1="333.5" x2="742.36" y2="336.5" stroke="#8a8a8a" stroke-width="1"/>
<text transform="translate(742.36,346.40) scale(1,1.0)" class="tk" text-anchor="middle">14</text>
<line x1="764.82" y1="333.5" x2="764.82" y2="336.5" stroke="#8a8a8a" stroke-width="1"/>
<text transform="translate(764.82,346.40) scale(1,1.0)" class="tk" text-anchor="middle">16</text>
<line x1="573.2" y1="326.88" x2="576.2" y2="326.88" stroke="#8a8a8a" stroke-width="1"/>
<text transform="translate(571.90,330.88) scale(1,1.0)" class="tk" text-anchor="end">0.00</text>
<line x1="573.2" y1="293.76" x2="576.2" y2="293.76" stroke="#8a8a8a" stroke-width="1"/>
<text transform="translate(571.90,297.76) scale(1,1.0)" class="tk" text-anchor="end">0.25</text>
<line x1="573.2" y1="260.65" x2="576.2" y2="260.65" stroke="#8a8a8a" stroke-width="1"/>
<text transform="translate(571.90,264.65) scale(1,1.0)" class="tk" text-anchor="end">0.50</text>
<line x1="573.2" y1="227.54" x2="576.2" y2="227.54" stroke="#8a8a8a" stroke-width="1"/>
<text transform="translate(571.90,231.54) scale(1,1.0)" class="tk" text-anchor="end">0.75</text>
<line x1="573.2" y1="194.42" x2="576.2" y2="194.42" stroke="#8a8a8a" stroke-width="1"/>
<text transform="translate(571.90,198.42) scale(1,1.0)" class="tk" text-anchor="end">1.00</text>
<text transform="translate(674.80,359.80) scale(0.95,0.88)" class="yt" text-anchor="middle"><tspan style="font-family:Liberation Serif,serif;font-style:italic;font-size:11px">χ</tspan><tspan dx="1.1"> (SAXS)</tspan></text>
<text transform="translate(542.7,260.65) rotate(-90) scale(1,0.95)" class="yt" text-anchor="middle">Density</text>
<path d="M585.0,509.6 L585.0,461  C585.53,456.73 587.22,443.58 588.20,435.40 C589.18,427.22 590.13,417.97 590.90,411.90 C591.67,405.83 592.20,402.63 592.80,399.00 C593.40,395.37 593.93,392.77 594.50,390.10 C595.07,387.43 595.68,384.85 596.20,383.00 C596.72,381.15 597.13,379.92 597.60,379.00 C598.07,378.08 598.50,377.58 599.00,377.50 C599.50,377.42 600.07,377.58 600.60,378.50 C601.13,379.42 601.70,381.07 602.20,383.00 C602.70,384.93 602.70,385.93 603.60,390.10 C604.50,394.27 606.53,403.03 607.60,408.00 C608.67,412.97 609.12,415.25 610.00,419.90 C610.88,424.55 611.75,430.25 612.90,435.90 C614.05,441.55 615.40,448.17 616.90,453.80 C618.40,459.43 620.07,464.72 621.90,469.70 C623.73,474.68 625.73,479.55 627.90,483.70 C630.07,487.85 632.58,491.95 634.90,494.60 C637.22,497.25 639.62,498.43 641.80,499.60 C643.98,500.77 645.88,500.78 648.00,501.60 C650.12,502.42 652.22,503.45 654.50,504.50 C656.78,505.55 658.72,507.12 661.70,507.90 C664.68,508.68 666.02,508.93 672.40,509.20 C678.78,509.47 693.53,509.57 700.00,509.50 C706.47,509.43 707.53,508.80 711.20,508.80 C714.87,508.80 713.07,509.37 722.00,509.50 C730.93,509.63 757.67,509.58 764.80,509.60 L764.8,509.6 Z" fill="rgba(0,0,0,0.5)" stroke="#262626" stroke-width="1.2" stroke-linejoin="round"/>
<path d="M585.0,509.6 L585.0,466.2  C586.18,463.10 589.58,454.27 592.10,447.60 C594.62,440.93 597.58,432.77 600.10,426.20 C602.62,419.63 605.02,413.37 607.20,408.20 C609.38,403.03 610.92,399.17 613.20,395.20 C615.48,391.23 618.60,387.07 620.90,384.40 C623.20,381.73 624.82,380.37 627.00,379.20 C629.18,378.03 631.67,377.43 634.00,377.40 C636.33,377.37 638.03,377.97 641.00,379.00 C643.97,380.03 648.47,382.32 651.80,383.60 C655.13,384.88 657.92,385.80 661.00,386.70 C664.08,387.60 667.20,387.98 670.30,389.00 C673.40,390.02 676.52,391.00 679.60,392.80 C682.68,394.60 685.72,397.10 688.80,399.80 C691.88,402.50 695.00,405.45 698.10,409.00 C701.20,412.55 704.10,416.00 707.40,421.10 C710.70,426.20 714.37,433.38 717.90,439.60 C721.43,445.82 725.03,452.60 728.60,458.40 C732.17,464.20 735.73,469.50 739.30,474.40 C742.87,479.30 746.43,484.23 750.00,487.80 C753.57,491.37 758.23,493.93 760.70,495.80 C763.17,497.67 764.12,498.47 764.80,499.00 L764.8,509.6 Z" fill="rgba(255,255,255,0.5)" stroke="#262626" stroke-width="1.2" stroke-linejoin="round"/>
<rect x="576.3" y="371.4" width="197.50" height="145.30" fill="none" stroke="#8a8a8a" stroke-width="1.1"/>
<line x1="585.28" y1="516.7" x2="585.28" y2="519.7" stroke="#8a8a8a" stroke-width="1"/>
<text transform="translate(585.28,529.60) scale(1,1.0)" class="tk" text-anchor="middle">0</text>
<line x1="607.72" y1="516.7" x2="607.72" y2="519.7" stroke="#8a8a8a" stroke-width="1"/>
<text transform="translate(607.72,529.60) scale(1,1.0)" class="tk" text-anchor="middle">2</text>
<line x1="630.16" y1="516.7" x2="630.16" y2="519.7" stroke="#8a8a8a" stroke-width="1"/>
<text transform="translate(630.16,529.60) scale(1,1.0)" class="tk" text-anchor="middle">4</text>
<line x1="652.61" y1="516.7" x2="652.61" y2="519.7" stroke="#8a8a8a" stroke-width="1"/>
<text transform="translate(652.61,529.60) scale(1,1.0)" class="tk" text-anchor="middle">6</text>
<line x1="675.05" y1="516.7" x2="675.05" y2="519.7" stroke="#8a8a8a" stroke-width="1"/>
<text transform="translate(675.05,529.60) scale(1,1.0)" class="tk" text-anchor="middle">8</text>
<line x1="697.49" y1="516.7" x2="697.49" y2="519.7" stroke="#8a8a8a" stroke-width="1"/>
<text transform="translate(697.49,529.60) scale(1,1.0)" class="tk" text-anchor="middle">10</text>
<line x1="719.94" y1="516.7" x2="719.94" y2="519.7" stroke="#8a8a8a" stroke-width="1"/>
<text transform="translate(719.94,529.60) scale(1,1.0)" class="tk" text-anchor="middle">12</text>
<line x1="742.38" y1="516.7" x2="742.38" y2="519.7" stroke="#8a8a8a" stroke-width="1"/>
<text transform="translate(742.38,529.60) scale(1,1.0)" class="tk" text-anchor="middle">14</text>
<line x1="764.82" y1="516.7" x2="764.82" y2="519.7" stroke="#8a8a8a" stroke-width="1"/>
<text transform="translate(764.82,529.60) scale(1,1.0)" class="tk" text-anchor="middle">16</text>
<line x1="573.3" y1="510.10" x2="576.3" y2="510.10" stroke="#8a8a8a" stroke-width="1"/>
<text transform="translate(572.00,514.10) scale(1,1.0)" class="tk" text-anchor="end">0.00</text>
<line x1="573.3" y1="477.07" x2="576.3" y2="477.07" stroke="#8a8a8a" stroke-width="1"/>
<text transform="translate(572.00,481.07) scale(1,1.0)" class="tk" text-anchor="end">0.25</text>
<line x1="573.3" y1="444.05" x2="576.3" y2="444.05" stroke="#8a8a8a" stroke-width="1"/>
<text transform="translate(572.00,448.05) scale(1,1.0)" class="tk" text-anchor="end">0.50</text>
<line x1="573.3" y1="411.03" x2="576.3" y2="411.03" stroke="#8a8a8a" stroke-width="1"/>
<text transform="translate(572.00,415.03) scale(1,1.0)" class="tk" text-anchor="end">0.75</text>
<line x1="573.3" y1="378.00" x2="576.3" y2="378.00" stroke="#8a8a8a" stroke-width="1"/>
<text transform="translate(572.00,382.00) scale(1,1.0)" class="tk" text-anchor="end">1.00</text>
<text transform="translate(674.85,543.00) scale(0.95,0.88)" class="yt" text-anchor="middle"><tspan style="font-family:Liberation Serif,serif;font-style:italic;font-size:11px">χ</tspan><tspan dx="1.1"> (SAXS)</tspan></text>
<text transform="translate(542.8,444.05) rotate(-90) scale(1,0.95)" class="yt" text-anchor="middle">Density</text>
<text x="1.5" y="18" class="pl">(A)</text>
<text x="1.5" y="198" class="pl">(B)</text>
<text x="1.5" y="382" class="pl">(C)</text>
</svg></body></html>
